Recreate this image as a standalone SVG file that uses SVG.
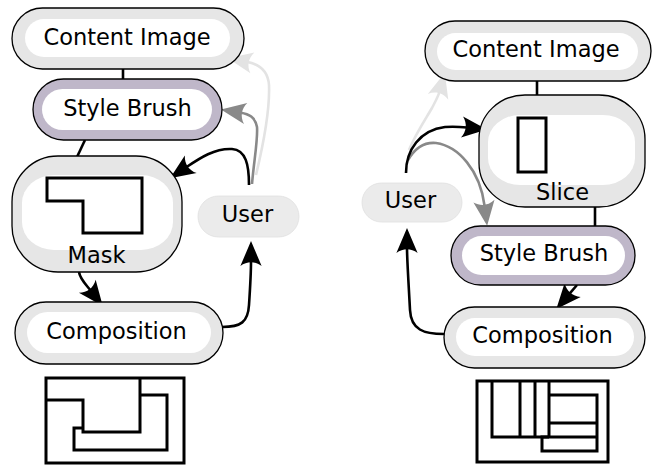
<svg xmlns="http://www.w3.org/2000/svg" width="653" height="466" viewBox="0 0 653 466">
<style>
.outer{fill:#e6e6e6;stroke:#000;stroke-width:1.3}
.brush{fill:#bfb7c9;stroke:#000;stroke-width:1.3}
.inner{fill:#fff;stroke:none}
.user{fill:#ebebeb;stroke:#e0e0e0;stroke-width:0.8}
.lbl{font-family:"DejaVu Sans","Liberation Sans",sans-serif;font-size:22.5px;fill:#000;text-anchor:middle}
.fig{fill:none;stroke:#000;stroke-width:3}
.edge{fill:none;stroke-width:2.6}
.blk{stroke:#000}
.gry{stroke:#898989}
.lgt{stroke:#e3e3e3}
</style>
<defs>
<marker id="ab" markerUnits="userSpaceOnUse" markerWidth="30" markerHeight="30" viewBox="-6 -10 24 20" refX="0" refY="0" orient="auto"><path d="M16,0 L-4,-8.5 C0,-3 0,3 -4,8.5 Z" fill="#000"/></marker>
<marker id="ag" markerUnits="userSpaceOnUse" markerWidth="30" markerHeight="30" viewBox="-6 -10 24 20" refX="0" refY="0" orient="auto"><path d="M16,0 L-4,-8.5 C0,-3 0,3 -4,8.5 Z" fill="#898989"/></marker>
<marker id="al" markerUnits="userSpaceOnUse" markerWidth="30" markerHeight="30" viewBox="-6 -10 24 20" refX="0" refY="0" orient="auto"><path d="M16,0 L-4,-8.5 C0,-3 0,3 -4,8.5 Z" fill="#e3e3e3"/></marker>
</defs>

<g id="connectors">
<line class="edge blk" x1="123" y1="69" x2="123" y2="79" stroke-width="2"/>
<line class="edge blk" x1="85" y1="140" x2="77" y2="157" stroke-width="2"/>
<path class="edge blk" d="M79,272 C80,279 86,284.6 90.4,290.2" marker-end="url(#ab)"/>
<path class="edge blk" d="M222,327 C241,327 248,322 249,305 C250,290 251,270 251,261" marker-end="url(#ab)"/>
<path class="edge lgt" d="M256,175 C262,150 270,110 269,85 C268,70 258,64 247.5,62" marker-end="url(#al)"/>
<path class="edge gry" d="M252,184 C254,160 258,140 257,127 C255,117 249,114 240.7,112.7" marker-end="url(#ag)"/>
<path class="edge blk" d="M249,185 C249,165 246,150 232,149 C215,148 200,158 186.6,167" marker-end="url(#ab)"/>

<line class="edge blk" x1="537" y1="81" x2="537" y2="95" stroke-width="2"/>
<line class="edge blk" x1="595" y1="207" x2="595" y2="226" stroke-width="2"/>
<path class="edge blk" d="M577,285 L569.4,293.8" marker-end="url(#ab)"/>
<path class="edge blk" d="M444,334 C424,334 411,330 410,310 C409,290 407,260 407,248" marker-end="url(#ab)"/>
<path class="edge lgt" d="M409,150 C415,135 425,120 432,108 C435,102 438,97 439.4,92" marker-end="url(#al)"/>
<path class="edge gry" d="M408,160 C415,148 425,142 436,143 C458,146 480,170 484.6,206" marker-end="url(#ag)"/>
<path class="edge blk" d="M406,173 C406,150 420,130 445,127 C455,126.3 462,127 467,127.5" marker-end="url(#ab)"/>
</g>

<g id="content-image-left">
<rect class="outer" x="12" y="8" width="232" height="61" rx="30.5"/>
<rect class="inner" x="25" y="19" width="205" height="38" rx="19"/>
<text class="lbl" x="127" y="45">Content Image</text>
</g>
<g id="style-brush-left">
<rect class="brush" x="33" y="79" width="189" height="61" rx="30.5"/>
<rect class="inner" x="42" y="89" width="170" height="41" rx="20.5"/>
<text class="lbl" x="127.5" y="116">Style Brush</text>
</g>
<g id="mask">
<rect class="outer" x="12" y="156" width="170" height="116" rx="46" ry="46"/>
<rect class="inner" x="22" y="175" width="151" height="75" rx="32" ry="28"/>
<path class="fig" d="M47,178 H142 V233 H83 V201 H47 Z"/>
<text class="lbl" x="96.5" y="263">Mask</text>
</g>
<g id="composition-left">
<rect class="outer" x="15" y="302" width="208" height="62" rx="31"/>
<rect class="inner" x="27" y="312" width="184" height="41" rx="20.5"/>
<text class="lbl" x="116.5" y="339">Composition</text>
</g>
<g id="user-left">
<rect class="user" x="198" y="196" width="101" height="41" rx="20.5"/>
<text class="lbl" x="247.5" y="222">User</text>
</g>
<g id="result-left">
<rect class="fig" x="46" y="378" width="138" height="85"/>
<path class="fig" d="M46,400 H83 V432 H140 V378"/>
<path class="fig" d="M140,395 H167 V450 H74 V428 H83"/>
</g>

<g id="content-image-right">
<rect class="outer" x="425" y="21" width="226" height="60" rx="30"/>
<rect class="inner" x="437" y="33" width="201" height="37" rx="18.5"/>
<text class="lbl" x="536" y="57">Content Image</text>
</g>
<g id="slice">
<rect class="outer" x="479" y="95" width="166" height="112" rx="46" ry="44"/>
<rect class="inner" x="488" y="115" width="147" height="70" rx="32" ry="27"/>
<rect class="fig" x="518" y="118" width="28" height="54"/>
<text class="lbl" x="562.5" y="200">Slice</text>
</g>
<g id="style-brush-right">
<rect class="brush" x="451" y="226" width="184" height="59" rx="29.5"/>
<rect class="inner" x="462" y="236" width="163" height="39" rx="19.5"/>
<text class="lbl" x="544" y="261">Style Brush</text>
</g>
<g id="composition-right">
<rect class="outer" x="444" y="307" width="201" height="61" rx="30.5"/>
<rect class="inner" x="456" y="318" width="178" height="38" rx="19"/>
<text class="lbl" x="542.5" y="343">Composition</text>
</g>
<g id="user-right">
<rect class="user" x="362" y="183" width="100" height="39" rx="19.5"/>
<text class="lbl" x="410.5" y="208">User</text>
</g>
<g id="result-right">
<rect class="fig" x="477" y="381" width="131" height="81"/>
<path class="fig" d="M492,381 V437 H549 M520,381 V437 M535,381 V437 M549,381 V437"/>
<path class="fig" d="M549,395 H597 V451 H542 V437 H597 M549,423 H597"/>
</g>
</svg>
